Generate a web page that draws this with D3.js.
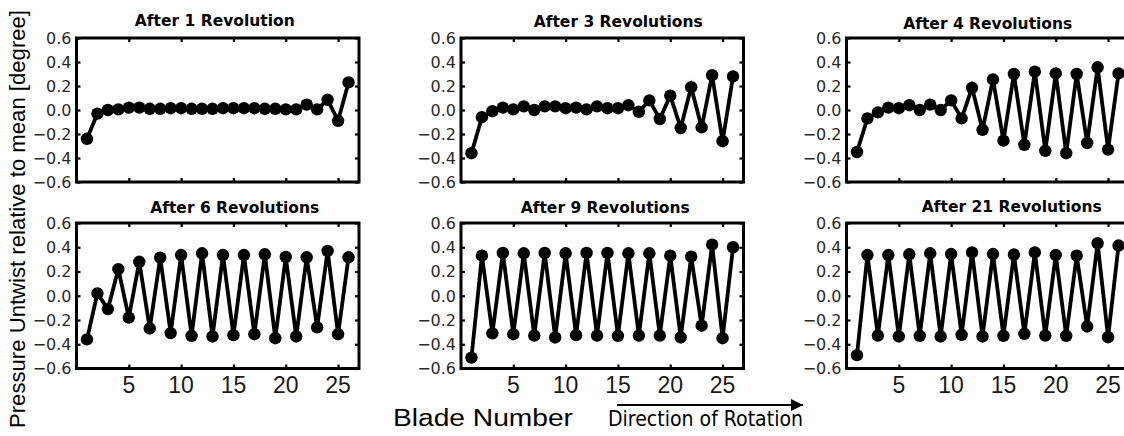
<!DOCTYPE html>
<html>
<head>
<meta charset="utf-8">
<script src="https://cdn.jsdelivr.net/npm/d3@7"></script>
<style>
  html, body { margin: 0; padding: 0; background: #fff; }
  svg { display: block; }
</style>
</head>
<body>
<svg id="chart" width="1124" height="436"></svg>
<script>
// Blade numbers (x categories) and tick values
const blades = [1,2,3,4,5,6,7,8,9,10,11,12,13,14,15,16,17,18,19,20,21,22,23,24,25,26];
const xTickValues = [5, 10, 15, 20, 25];
const yTickValues = [-0.6, -0.4, -0.2, 0.0, 0.2, 0.4, 0.6];

// Panel titles
const panelTitles = ["After 1 Revolution", "After 3 Revolutions", "After 4 Revolutions",
                     "After 6 Revolutions", "After 9 Revolutions", "After 21 Revolutions"];

// Pressure untwist relative to mean [degree], one value per blade
const afterRev1 = [-0.24, -0.03, 0.00, 0.005, 0.02, 0.02, 0.01, 0.01, 0.015, 0.015, 0.01, 0.01, 0.01,
                   0.015, 0.015, 0.015, 0.015, 0.01, 0.01, 0.005, 0.005, 0.045, 0.005, 0.085, -0.09, 0.23];
const afterRev3 = [-0.36, -0.06, -0.01, 0.02, 0.005, 0.03, 0.0, 0.03, 0.03, 0.015, 0.02, 0.005, 0.03,
                   0.015, 0.015, 0.04, -0.015, 0.08, -0.075, 0.12, -0.15, 0.19, -0.145, 0.29, -0.26, 0.28];
const afterRev4 = [-0.35, -0.07, -0.02, 0.02, 0.015, 0.04, 0.0, 0.045, 0.0, 0.08, -0.07, 0.185, -0.165,
                   0.255, -0.255, 0.30, -0.29, 0.32, -0.34, 0.305, -0.36, 0.30, -0.275, 0.356, -0.33, 0.305];
const afterRev6 = [-0.36, 0.02, -0.11, 0.22, -0.18, 0.28, -0.27, 0.314, -0.308, 0.336, -0.33, 0.35, -0.336,
                   0.336, -0.325, 0.336, -0.317, 0.342, -0.35, 0.32, -0.336, 0.317, -0.26, 0.37, -0.317, 0.317];
const afterRev9 = [-0.51, 0.33, -0.31, 0.353, -0.317, 0.35, -0.328, 0.353, -0.344, 0.35, -0.325, 0.353, -0.328,
                   0.353, -0.33, 0.35, -0.328, 0.35, -0.328, 0.33, -0.344, 0.322, -0.247, 0.422, -0.35, 0.40];
const afterRev21 = [-0.49, 0.336, -0.328, 0.336, -0.336, 0.342, -0.33, 0.35, -0.336, 0.344, -0.322, 0.358, -0.336,
                    0.344, -0.33, 0.34, -0.314, 0.358, -0.328, 0.336, -0.33, 0.33, -0.253, 0.433, -0.342, 0.414];

const panelSeries = [afterRev1, afterRev3, afterRev4, afterRev6, afterRev9, afterRev21];

// Axis titles
const yAxisTitle = "Pressure Untwist relative to mean [degree]";
const xAxisTitle = "Blade Number";
const rotationLabel = "Direction of Rotation";

// ---------------------------------------------------------------- layout
const svg = d3.select("#chart");
const colLeft = [76.5, 461, 846.5];
const rowTop = [38, 223];
const rowHeight = [144, 145.5];
const panelWidth = 282.5;
// horizontal nudges and baselines for the panel titles
const titleShift = [-3, 16, 0, 17, 3, 24];
const titleBaseline = [26, 27, 29, 212.5, 212.5, 211.5];

const tickFont = "'DejaVu Sans', sans-serif";
const sansFont = "'Liberation Sans', Arial, sans-serif";

panelSeries.forEach((values, i) => {
  const col = i % 3, row = Math.floor(i / 3);
  const x0 = colLeft[col], y0 = rowTop[row], h = rowHeight[row];

  const x = d3.scaleLinear().domain([0, 27]).range([x0, x0 + panelWidth]);
  const y = d3.scaleLinear().domain([-0.6, 0.6]).range([y0 + h, y0]);

  const g = svg.append("g");

  // inward ticks on all four sides
  const tickLen = 4;
  const axLeft = d3.axisRight(y).tickValues(yTickValues).tickSize(tickLen).tickFormat("");
  const axRight = d3.axisLeft(y).tickValues(yTickValues).tickSize(tickLen).tickFormat("");
  const axTop = d3.axisBottom(x).tickValues(xTickValues).tickSize(tickLen).tickFormat("");
  const axBottom = d3.axisTop(x).tickValues(xTickValues).tickSize(tickLen).tickFormat("");

  [[axLeft, `translate(${x0},0)`], [axRight, `translate(${x0 + panelWidth},0)`],
   [axTop, `translate(0,${y0})`], [axBottom, `translate(0,${y0 + h})`]].forEach(([ax, tr]) => {
    const a = g.append("g").attr("transform", tr).call(ax);
    a.select(".domain").remove();
    a.selectAll(".tick line").attr("stroke", "#000").attr("stroke-width", 2.2);
  });

  // y tick labels
  g.append("g").selectAll("text").data(yTickValues).join("text")
    .attr("x", x0 - 5)
    .attr("y", d => y(d))
    .attr("dy", "0.36em")
    .attr("text-anchor", "end")
    .attr("font-family", tickFont)
    .attr("font-size", 16)
    .attr("fill", "#2a2a2a")
    .text(d => d3.format(".1f")(d));

  // x tick labels on the lower row only
  if (row === 1) {
    g.append("g").selectAll("text").data(xTickValues).join("text")
      .attr("x", d => x(d))
      .attr("y", y0 + h + 24.5)
      .attr("text-anchor", "middle")
      .attr("font-family", sansFont)
      .attr("font-size", 23)
      .attr("fill", "#1a1a1a")
      .text(d => d);
  }

  // series line and markers
  const pts = blades.map((b, k) => [b, values[k]]);
  g.append("path")
    .datum(pts)
    .attr("fill", "none")
    .attr("stroke", "#000")
    .attr("stroke-width", 3.8)
    .attr("stroke-linejoin", "miter")
    .attr("d", d3.line().x(d => x(d[0])).y(d => y(d[1])));

  g.append("g").selectAll("circle").data(pts).join("circle")
    .attr("cx", d => x(d[0]))
    .attr("cy", d => y(d[1]))
    .attr("r", 6.2)
    .attr("fill", "#000");

  // frame
  g.append("rect")
    .attr("x", x0).attr("y", y0)
    .attr("width", panelWidth).attr("height", h)
    .attr("fill", "none")
    .attr("stroke", "#000")
    .attr("stroke-width", 3);

  // title
  g.append("text")
    .attr("x", x0 + panelWidth / 2 + titleShift[i])
    .attr("y", titleBaseline[i])
    .attr("text-anchor", "middle")
    .attr("font-family", tickFont)
    .attr("font-weight", "bold")
    .attr("font-size", 15.5)
    .attr("fill", "#000")
    .text(panelTitles[i]);
});

// shared y axis title
svg.append("text")
  .attr("transform", "translate(25,219) rotate(-90)")
  .attr("text-anchor", "middle")
  .attr("font-family", sansFont)
  .attr("font-size", 22.5)
  .attr("textLength", 418)
  .attr("lengthAdjust", "spacingAndGlyphs")
  .attr("fill", "#000")
  .text(yAxisTitle);

// shared x axis title
svg.append("text")
  .attr("x", 393)
  .attr("y", 426)
  .attr("font-family", sansFont)
  .attr("font-size", 23)
  .attr("textLength", 180)
  .attr("lengthAdjust", "spacingAndGlyphs")
  .attr("fill", "#000")
  .text(xAxisTitle);

// rotation direction arrow
svg.append("defs").append("marker")
  .attr("id", "arrowHead")
  .attr("viewBox", "0 0 12 12")
  .attr("refX", 12).attr("refY", 6)
  .attr("markerWidth", 13).attr("markerHeight", 12)
  .attr("markerUnits", "userSpaceOnUse")
  .attr("orient", "auto")
  .append("path")
  .attr("d", "M0,0 L12,6 L0,12 Z")
  .attr("fill", "#000");

svg.append("line")
  .attr("x1", 617).attr("y1", 405)
  .attr("x2", 803).attr("y2", 405)
  .attr("stroke", "#000")
  .attr("stroke-width", 2)
  .attr("marker-end", "url(#arrowHead)");

svg.append("text")
  .attr("x", 608)
  .attr("y", 426)
  .attr("font-family", "'DejaVu Sans Condensed', 'DejaVu Sans', sans-serif")
  .attr("font-stretch", "condensed")
  .attr("font-size", 21)
  .attr("textLength", 195)
  .attr("lengthAdjust", "spacingAndGlyphs")
  .attr("fill", "#000")
  .text(rotationLabel);
</script>
</body>
</html>
